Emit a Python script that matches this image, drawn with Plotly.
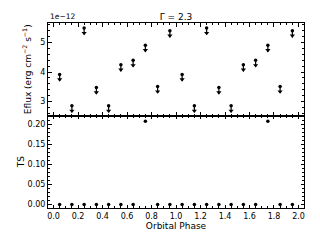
import plotly.graph_objects as go
from plotly.subplots import make_subplots

# orbital phase bins (two cycles)
phase = [0.05, 0.15, 0.25, 0.35, 0.45, 0.55, 0.65, 0.75, 0.85, 0.95,
         1.05, 1.15, 1.25, 1.35, 1.45, 1.55, 1.65, 1.75, 1.85, 1.95]
# energy flux upper limits, in units of 1e-12 erg cm^-2 s^-1
eflux_ul = [3.92, 2.86, 5.49, 3.48, 2.86, 4.25, 4.40, 4.91, 3.51, 5.40,
            3.92, 2.86, 5.49, 3.48, 2.86, 4.25, 4.40, 4.91, 3.51, 5.40]
ts = [0.0, 0.0, 0.0, 0.0, 0.0, 0.0, 0.0, 0.207, 0.0, 0.0,
      0.0, 0.0, 0.0, 0.0, 0.0, 0.0, 0.0, 0.207, 0.0, 0.0]
ul_arrow = 0.22

FONT = "DejaVu Sans"

fig = make_subplots(rows=2, cols=1, shared_xaxes=True, vertical_spacing=0)

fig.add_trace(
    go.Scatter(
        x=phase, y=eflux_ul, mode="markers",
        marker=dict(color="black", size=3.5),
        error_y=dict(type="data", symmetric=False, array=[0] * len(phase),
                     arrayminus=[ul_arrow] * len(phase), width=0,
                     thickness=1.2, color="black"),
        showlegend=False,
    ),
    row=1, col=1,
)
fig.add_trace(
    go.Scatter(
        x=phase, y=[v - ul_arrow + 0.05 for v in eflux_ul], mode="markers",
        marker=dict(color="black", size=4.5, symbol="triangle-down"),
        showlegend=False,
    ),
    row=1, col=1,
)
fig.add_trace(
    go.Scatter(
        x=phase, y=ts, mode="markers",
        marker=dict(color="black", size=3.5),
        showlegend=False,
    ),
    row=2, col=1,
)

axis_common = dict(
    showline=True, linecolor="black", linewidth=1, mirror="allticks",
    ticks="inside", ticklen=3.5, tickwidth=0.8, tickcolor="black",
    showgrid=False, zeroline=False,
    tickfont=dict(family=FONT, size=8, color="black"),
)

fig.update_xaxes(**axis_common, range=[-0.045, 2.045], dtick=0.2, tickformat=".1f",
                 minor=dict(ticks="inside", ticklen=2, dtick=0.05, tickcolor="black"))
fig.update_xaxes(title=dict(text="Orbital Phase", font=dict(family=FONT, size=9), standoff=0),
                 row=2, col=1)
fig.update_yaxes(**axis_common)
fig.update_yaxes(range=[2.53, 5.66], dtick=1,
                 minor=dict(ticks="inside", ticklen=2, dtick=0.2, tickcolor="black"),
                 title=dict(text="Eflux (erg cm<sup>−2</sup> s<sup>−1</sup>)",
                            font=dict(family=FONT, size=9), standoff=7),
                 row=1, col=1)
fig.update_yaxes(range=[-0.0085, 0.2215], dtick=0.05, tickformat=".2f",
                 minor=dict(ticks="inside", ticklen=2, dtick=0.01, tickcolor="black"),
                 title=dict(text="TS", font=dict(family=FONT, size=9), standoff=1),
                 row=2, col=1)

# the page body adds an 8px offset, so margins are set to land the axes in place
fig.update_layout(
    width=320, height=240,
    margin=dict(l=34, r=24, t=15, b=40),
    paper_bgcolor="white", plot_bgcolor="white",
    font=dict(family=FONT, color="black"),
    title=dict(text="Γ = 2.3", xref="paper", x=0.5, xanchor="center",
               y=0.962, yanchor="middle", font=dict(family=FONT, size=9)),
    annotations=[dict(text="1e−12", xref="paper", yref="paper", x=0, y=1,
                      xanchor="left", yanchor="bottom", showarrow=False,
                      font=dict(family=FONT, size=7.5))],
)

fig.write_html("out.html")
